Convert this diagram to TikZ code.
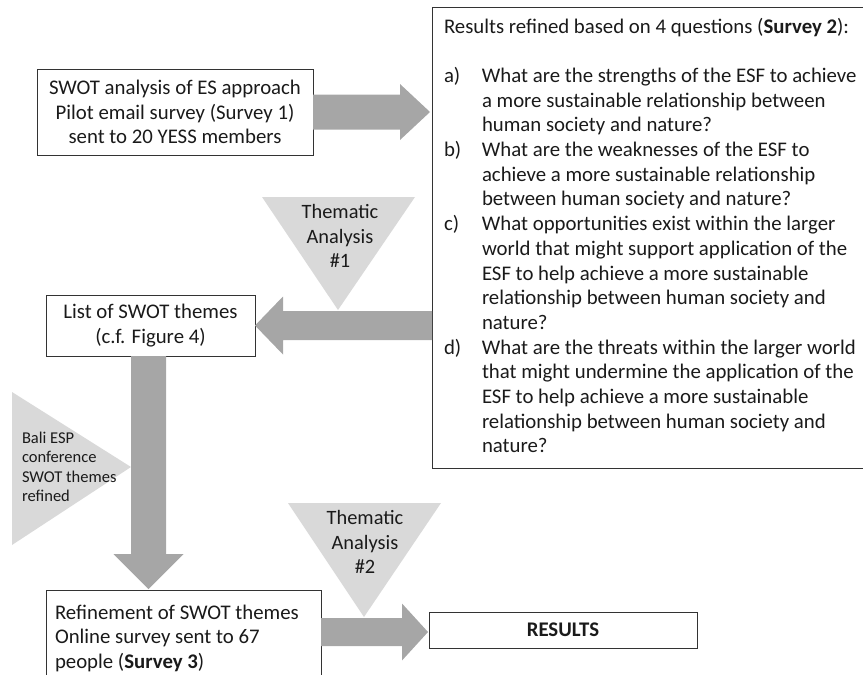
\documentclass[tikz,border=0pt]{standalone}
\usepackage{fontspec}
\setmainfont{Carlito}
\usetikzlibrary{calc}
\definecolor{arrowgray}{HTML}{A6A6A6}
\definecolor{trigray}{HTML}{D9D9D9}
\definecolor{txt}{HTML}{1A1A1A}
\definecolor{edge}{HTML}{333333}
\begin{document}
\begin{tikzpicture}[x=1pt,y=-1pt,
  every node/.style={text=txt, inner sep=0pt, outer sep=0pt},
  boxnode/.style={draw=edge, line width=0.9pt},
  mainfont/.style={font=\fontsize{20.8}{24.7}\selectfont},
  trifont/.style={font=\fontsize{20.4}{24.7}\selectfont},
  arr/.style={fill=arrowgray},
  tri/.style={fill=trigray}]
\useasboundingbox (0,0) rectangle (863,675);
\clip (0,0) rectangle (863,675);

% boxes
\node[boxnode, minimum width=276pt, minimum height=86pt, align=center, mainfont] (b1) at (175,112)
  {SWOT analysis of ES approach\\Pilot email survey (Survey 1)\\sent to 20 YESS members};
\node[boxnode, minimum width=209pt, minimum height=61pt, align=center, mainfont] (b2) at (150.5,325.5)
  {List of SWOT themes\\(c.f. Figure 4)};
\node[boxnode, minimum width=275pt, minimum height=110pt] (b3) at (183.5,645) {};
\node[anchor=base west, mainfont] (b3t) at (55,619)
  {\begin{tabular}[t]{@{}l@{}}Refinement of SWOT themes\\Online survey sent to 67\\people (\textbf{Survey 3})\end{tabular}};
\node[boxnode, minimum width=448pt, minimum height=461pt] (big) at (656,237.5) {};
\node[anchor=base west, mainfont] (bigt) at (444,33)
  {\begin{tabular}[t]{@{}l@{}}
   Results refined based on 4 questions (\textbf{Survey 2}):\\
   \\
   \makebox[38pt][l]{a)}What are the strengths of the ESF to achieve\\
   \hspace*{38pt}a more sustainable relationship between\\
   \hspace*{38pt}human society and nature?\\
   \makebox[38pt][l]{b)}What are the weaknesses of the ESF to\\
   \hspace*{38pt}achieve a more sustainable relationship\\
   \hspace*{38pt}between human society and nature?\\
   \makebox[38pt][l]{c)}What opportunities exist within the larger\\
   \hspace*{38pt}world that might support application of the\\
   \hspace*{38pt}ESF to help achieve a more sustainable\\
   \hspace*{38pt}relationship between human society and\\
   \hspace*{38pt}nature?\\
   \makebox[38pt][l]{d)}What are the threats within the larger world\\
   \hspace*{38pt}that might undermine the application of the\\
   \hspace*{38pt}ESF to help achieve a more sustainable\\
   \hspace*{38pt}relationship between human society and\\
   \hspace*{38pt}nature?
   \end{tabular}};
\node[boxnode, minimum width=268pt, minimum height=36pt, mainfont] (res) at (563,630) {\textbf{RESULTS}};

% block arrows
\coordinate (a1s) at (b1.east);
\coordinate (a1t) at ($(big.west |- b1.east)+(-2,0)$);
\fill[arr] ($(a1s)+(0,-17.5)$) -- ($(a1t)+(-30,-17.5)$) -- ($(a1t)+(-30,-28)$) -- (a1t)
  -- ($(a1t)+(-30,28)$) -- ($(a1t)+(-30,17.5)$) -- ($(a1s)+(0,17.5)$) -- cycle;

\coordinate (a2s) at (big.west |- b2.east);
\coordinate (a2t) at (b2.east);
\fill[arr] ($(a2s)+(0,-14.5)$) -- ($(a2t)+(28,-14.5)$) -- ($(a2t)+(28,-29)$) -- (a2t)
  -- ($(a2t)+(28,29)$) -- ($(a2t)+(28,14.5)$) -- ($(a2s)+(0,14.5)$) -- cycle;

\coordinate (ads) at ($(b2.south)+(-2,0)$);
\coordinate (adt) at ($(b2.south |- b3.north)+(-2,-1)$);
\fill[arr] ($(ads)+(-17.5,0)$) -- ($(adt)+(-17.5,-35)$) -- ($(adt)+(-35,-35)$) -- (adt)
  -- ($(adt)+(35,-35)$) -- ($(adt)+(17.5,-35)$) -- ($(ads)+(17.5,0)$) -- cycle;

\coordinate (a3s) at ($(b3.east |- res.west)+(0,2)$);
\coordinate (a3t) at ($(res.west)+(-1,2)$);
\fill[arr] ($(a3s)+(0,-14)$) -- ($(a3t)+(-26,-14)$) -- ($(a3t)+(-26,-28.5)$) -- (a3t)
  -- ($(a3t)+(-26,28.5)$) -- ($(a3t)+(-26,14)$) -- ($(a3s)+(0,14)$) -- cycle;

% triangles
\fill[tri] (262,197) -- (415,197) -- (338,310) -- cycle;
\node[align=center, trifont] (ta1) at (340,236) {Thematic\\Analysis\\\#1};
\fill[tri] (288,503) -- (441,503) -- (364,617) -- cycle;
\node[align=center, trifont] (ta2) at (365,542) {Thematic\\Analysis\\\#2};
\fill[tri] (12,392) -- (131,467) -- (12,545) -- cycle;
\node[anchor=west, align=left, font=\fontsize{16.5}{19.4}\selectfont] (bali) at (22,467)
  {Bali ESP\\conference\\SWOT themes\\refined};
\end{tikzpicture}
\end{document}
